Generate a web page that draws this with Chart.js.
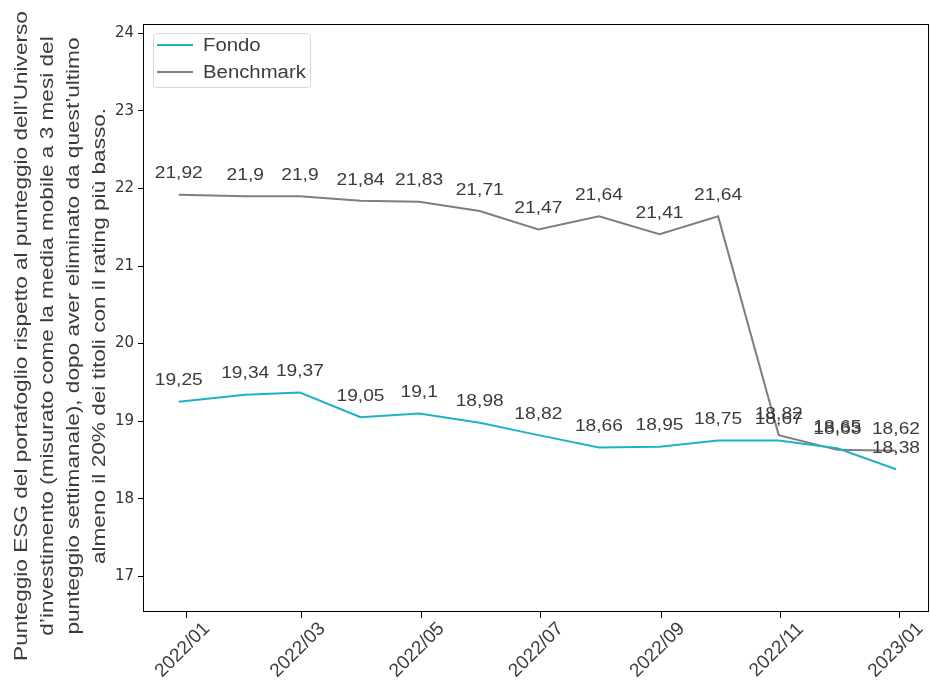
<!DOCTYPE html>
<html>
<head>
<meta charset="utf-8">
<script src="https://cdn.jsdelivr.net/npm/chart.js@4/dist/chart.umd.min.js"></script>
<style>
  html, body { margin: 0; padding: 0; background: #ffffff; }
  #wrap { width: 930px; height: 684px; }
</style>
</head>
<body>
<div id="wrap"><canvas id="c" width="930" height="684"></canvas></div>
<script>
// ---- data ----
const dates = ['2021-12-28','2022-01-31','2022-02-28','2022-03-31','2022-04-30','2022-05-31','2022-06-30','2022-07-31','2022-08-31','2022-09-30','2022-10-31','2022-11-30','2022-12-30'];
const fondo = [19.25, 19.34, 19.37, 19.05, 19.10, 18.98, 18.82, 18.66, 18.67, 18.75, 18.75, 18.65, 18.38];
const benchmark = [21.92, 21.90, 21.90, 21.84, 21.83, 21.71, 21.47, 21.64, 21.41, 21.64, 18.82, 18.63, 18.62];
// value labels as printed in the picture
const fondoLabels = [19.25, 19.34, 19.37, 19.05, 19.1, 18.98, 18.82, 18.66, 18.95, 18.75, 18.67, 18.65, 18.38];
const benchmarkLabels = [21.92, 21.9, 21.9, 21.84, 21.83, 21.71, 21.47, 21.64, 21.41, 21.64, 18.82, 18.63, 18.62];
const xTickDates = ['2022-01-01','2022-03-01','2022-05-01','2022-07-01','2022-09-01','2022-11-01','2023-01-01'];
const xTickLabels = ['2022/01','2022/03','2022/05','2022/07','2022/09','2022/11','2023/01'];
const yTicks = [17, 18, 19, 20, 21, 22, 23, 24];
const seriesNames = ['Fondo', 'Benchmark'];
const yTitle = [
  'Punteggio ESG del portafoglio rispetto al punteggio dell\u2019Universo',
  'd\u2019investimento (misurato come la media mobile a 3 mesi del',
  'punteggio settimanale), dopo aver eliminato da quest\u2019ultimo',
  'almeno il 20% dei titoli con il rating pi\u00f9 basso.'
];

// ---- helpers ----
const DAY = 86400000;
const origin = Date.UTC(2022, 0, 1);
function dayOf(s) { const p = s.split('-').map(Number); return (Date.UTC(p[0], p[1] - 1, p[2]) - origin) / DAY; }
const xs = dates.map(dayOf);
const xTickVals = xTickDates.map(dayOf);
const fmt = v => String(v).replace('.', ',');

const colors = ['#1db2c6', '#7f7f7f'];
const FONT = "'Liberation Sans', Arial, sans-serif";
const TEXT = '#3c3c3c';
const STRETCH = 1.13;

function stretchedText(ctx, txt, x, y, sx) {
  ctx.save();
  ctx.translate(x, y);
  ctx.scale(sx, 1);
  ctx.fillText(txt, 0, 0);
  ctx.restore();
}

const labelPlugin = {
  id: 'valueLabels',
  afterDatasetsDraw(chart) {
    const ctx = chart.ctx;
    const xs_ = chart.scales.x, ys_ = chart.scales.y;
    const sets = [fondoLabels, benchmarkLabels];
    ctx.save();
    ctx.font = '17px ' + FONT;
    ctx.fillStyle = TEXT;
    ctx.textAlign = 'center';
    ctx.textBaseline = 'middle';
    chart.data.datasets.forEach((ds, i) => {
      ds.data.forEach((pt, j) => {
        const px = xs_.getPixelForValue(pt.x);
        const py = ys_.getPixelForValue(pt.y);
        stretchedText(ctx, fmt(sets[i][j]), px, py - 21, STRETCH);
      });
    });
    ctx.restore();
  }
};

const framePlugin = {
  id: 'frameLegend',
  afterDraw(chart) {
    const ctx = chart.ctx;
    const a = chart.chartArea;
    ctx.save();
    ctx.strokeStyle = '#000';
    ctx.lineWidth = 1;
    ctx.strokeRect(Math.round(a.left) + 0.5, Math.round(a.top) + 0.5, Math.round(a.right - a.left) - 1, Math.round(a.bottom - a.top) - 1);

    // legend inside plot
    const bx = a.left + 10, by = a.top + 9, bw = 157, bh = 54;
    ctx.strokeStyle = '#d8d8d8';
    ctx.fillStyle = 'rgba(255,255,255,0.85)';
    ctx.beginPath();
    if (ctx.roundRect) ctx.roundRect(bx + 0.5, by + 0.5, bw, bh, 3); else ctx.rect(bx + 0.5, by + 0.5, bw, bh);
    ctx.fill();
    ctx.stroke();
    ctx.font = '18px ' + FONT;
    ctx.textBaseline = 'middle';
    ctx.textAlign = 'left';
    chart.data.datasets.forEach((ds, i) => {
      const cy = by + 12 + i * 27;
      ctx.strokeStyle = ds.borderColor;
      ctx.lineWidth = 2;
      ctx.beginPath();
      ctx.moveTo(bx + 4, cy);
      ctx.lineTo(bx + 40, cy);
      ctx.stroke();
      ctx.fillStyle = TEXT;
      stretchedText(ctx, ds.label, bx + 50, cy + 1, STRETCH);
    });

    // x tick labels, rotated 45deg and centred under each tick
    const sx = chart.scales.x;
    ctx.font = '19px ' + FONT;
    ctx.fillStyle = TEXT;
    ctx.textAlign = 'center';
    ctx.textBaseline = 'middle';
    xTickVals.forEach((v, k) => {
      const px = sx.getPixelForValue(v);
      ctx.save();
      ctx.translate(px - 4, a.bottom + 38);
      ctx.rotate(-Math.PI / 4);
      ctx.fillText(xTickLabels[k], 0, 0);
      ctx.restore();
    });

    // y axis title (four lines, rotated)
    ctx.font = '19px ' + FONT;
    ctx.fillStyle = TEXT;
    ctx.textAlign = 'center';
    ctx.textBaseline = 'middle';
    const cy = 336;
    yTitle.forEach((line, k) => {
      ctx.save();
      ctx.translate(22 + k * 26, cy);
      ctx.rotate(-Math.PI / 2);
      ctx.scale(1.19, 1);
      ctx.fillText(line, 0, 0);
      ctx.restore();
    });
    ctx.restore();
  }
};

new Chart(document.getElementById('c'), {
  type: 'line',
  data: {
    datasets: [
      { label: seriesNames[0], data: xs.map((x, i) => ({ x, y: fondo[i] })), borderColor: colors[0], backgroundColor: colors[0], borderWidth: 2, pointRadius: 0, tension: 0 },
      { label: seriesNames[1], data: xs.map((x, i) => ({ x, y: benchmark[i] })), borderColor: colors[1], backgroundColor: colors[1], borderWidth: 2, pointRadius: 0, tension: 0 }
    ]
  },
  options: {
    responsive: false,
    animation: false,
    devicePixelRatio: 1,
    layout: { padding: { top: 24, right: 1, left: 0, bottom: 0 } },
    plugins: { legend: { display: false }, tooltip: { enabled: false } },
    scales: {
      x: {
        type: 'linear',
        min: -22.3,
        max: 379.9,
        afterBuildTicks(scale) { scale.ticks = xTickVals.map(v => ({ value: v })); },
        afterFit(scale) { scale.height = 72; },
        ticks: { display: false, autoSkip: false },
        grid: { display: true, drawOnChartArea: false, drawTicks: true, tickLength: 6, color: '#000' },
        border: { display: false }
      },
      y: {
        type: 'linear',
        min: 16.54,
        max: 24.12,
        afterBuildTicks(scale) { scale.ticks = yTicks.map(v => ({ value: v })); },
        afterFit(scale) { scale.width = 143; },
        ticks: {
          color: '#333',
          font: { family: "'DejaVu Sans', sans-serif", size: 15 },
          padding: 4,
          callback(v) { return String(v); }
        },
        grid: { display: true, drawOnChartArea: false, drawTicks: true, tickLength: 5, color: '#000' },
        border: { display: false }
      }
    }
  },
  plugins: [labelPlugin, framePlugin]
});
</script>
</body>
</html>
